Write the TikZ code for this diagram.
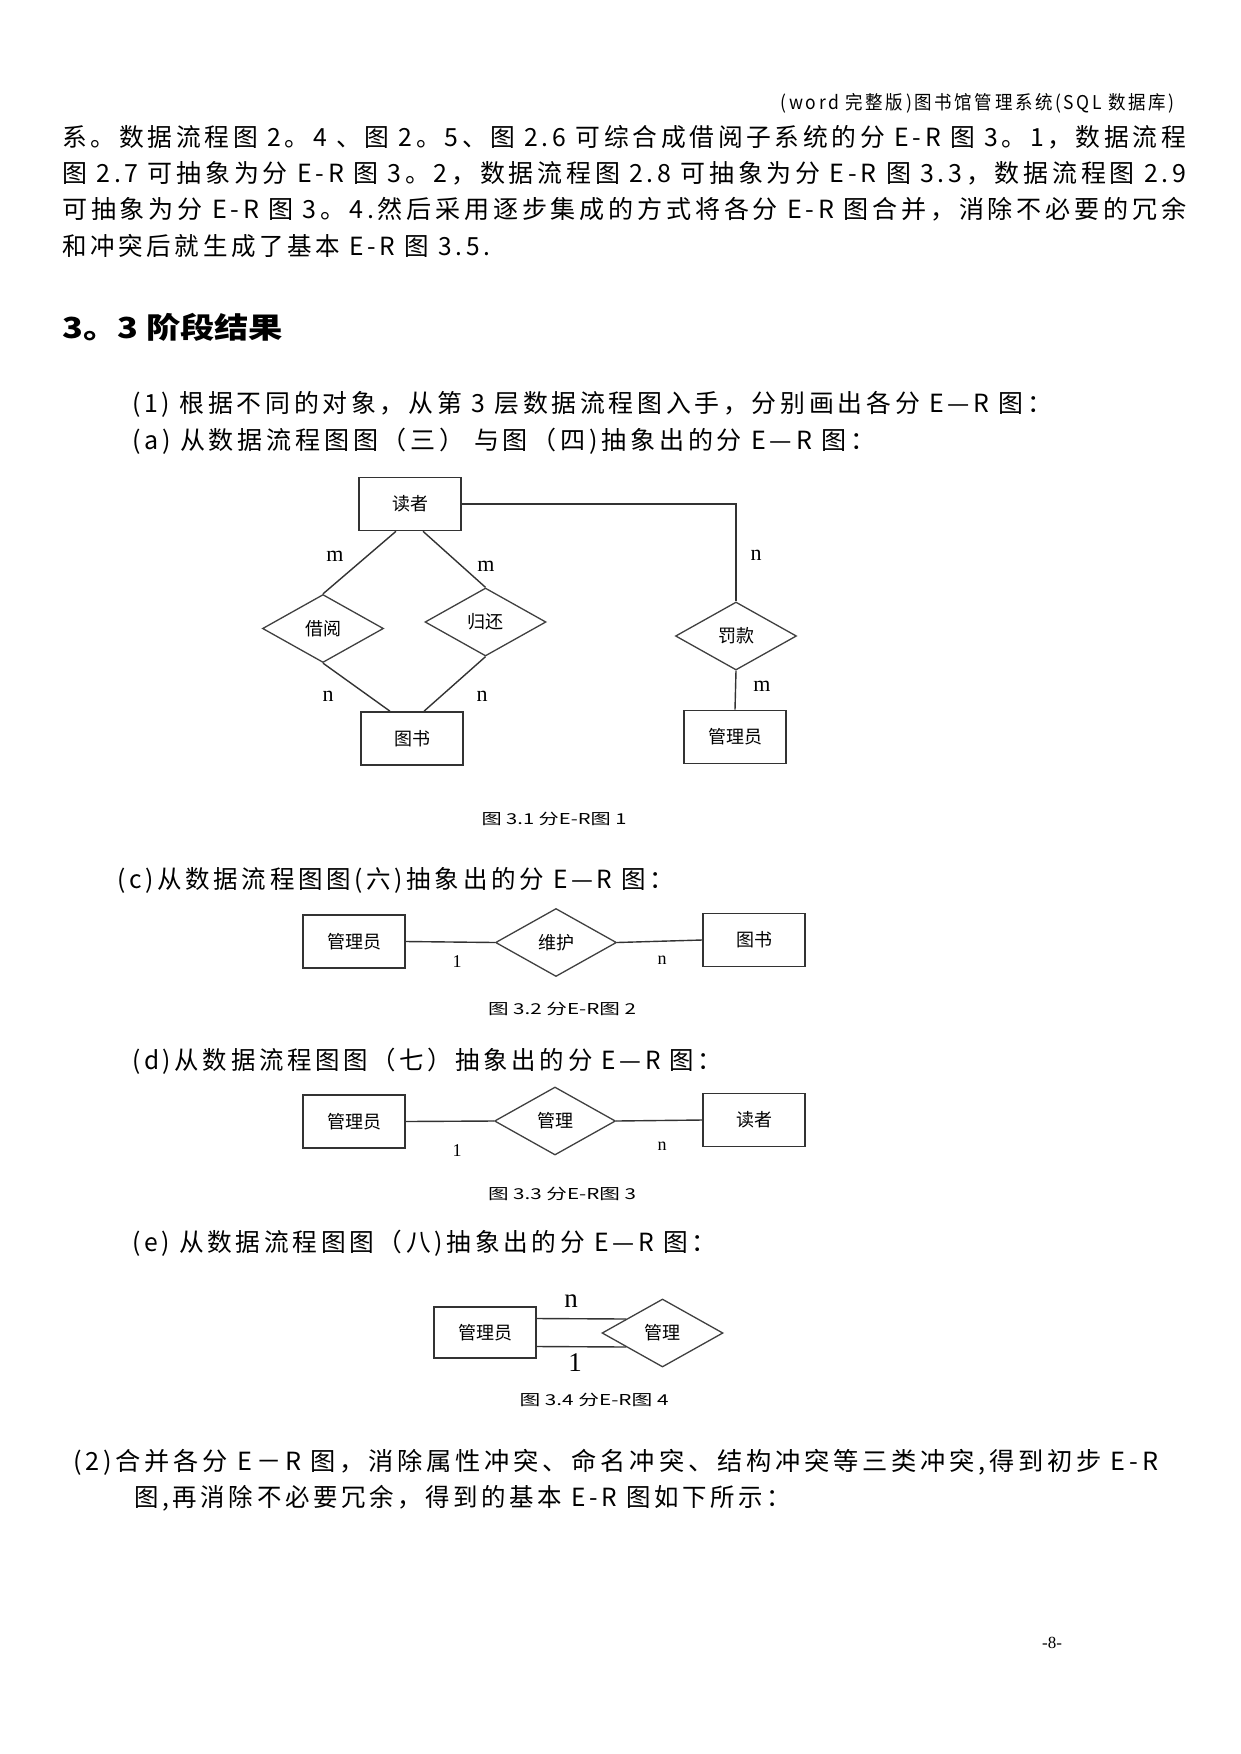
\documentclass[tikz,border=0pt]{standalone}
\usepackage{fontspec}
\setmainfont{Liberation Serif}
\newfontfamily\cjk[LetterSpace=15]{Noto Sans CJK SC}
\newfontfamily\cjkn{Noto Sans CJK SC}
\usetikzlibrary{shapes.geometric}
\newcommand\fitw[2]{\resizebox{#1pt}{\height}{#2}}
\tikzset{
  ent/.style={draw=black!80, line width=1.6pt, minimum width=102pt, minimum height=53pt, inner sep=0pt, font=\cjkn\fontsize{18}{18}\selectfont},
  rel/.style={diamond, draw=black!75, line width=1.3pt, minimum width=121pt, minimum height=68pt, inner sep=0pt, font=\cjkn\fontsize{18}{18}\selectfont},
  lnk/.style={draw=black!80, line width=1.4pt},
  card/.style={inner sep=0pt, font=\fontsize{22}{22}\selectfont},
  cards/.style={inner sep=0pt, font=\fontsize{18}{18}\selectfont},
  cardl/.style={inner sep=0pt, font=\fontsize{27}{27}\selectfont},
  txt/.style={anchor=west, inner sep=0pt, font=\cjk\fontsize{25}{25}\selectfont},
  figcap/.style={inner sep=0pt, font=\cjkn\fontsize{15}{15}\selectfont}
}
\begin{document}
\begin{tikzpicture}[x=1pt,y=-1pt]
\fill[white] (0,0) rectangle (1241,1754);
\useasboundingbox (0,0) rectangle (1241,1754);

% header
\node[anchor=east, inner sep=0pt, font=\cjk\fontsize{19}{19}\selectfont] (hdr) at (1175,103) {\fitw{394}{(word 完整版)图书馆管理系统(SQL 数据库)}};

% paragraph
\node[txt] (p1) at (62,137) {\fitw{1124}{系。数据流程图 2。4 、图 2。5、图 2.6 可综合成借阅子系统的分 E-R 图 3。1，数据流程}};
\node[txt] (p2) at (62,173) {\fitw{1124}{图 2.7 可抽象为分 E-R 图 3。2，数据流程图 2.8 可抽象为分 E-R 图 3.3，数据流程图 2.9}};
\node[txt] (p3) at (62,209) {\fitw{1124}{可抽象为分 E-R 图 3。4.然后采用逐步集成的方式将各分 E-R 图合并，消除不必要的冗余}};
\node[txt] (p4) at (62,246) {\fitw{428}{和冲突后就生成了基本 E-R 图 3.5.}};

% heading
\node[anchor=west, inner sep=0pt, font=\cjkn\bfseries\fontsize{29}{29}\selectfont] (hd) at (62,327) {\fitw{221}{3。3 阶段结果}};

\node[txt] (t1) at (132,404) {\fitw{920}{(1) 根据不同的对象，从第 3 层数据流程图入手，分别画出各分 E—R 图：}};
\node[txt] (ta) at (132,441) {\fitw{743}{(a) 从数据流程图图（三） 与图（四)抽象出的分 E—R 图：}};

% diagram 1
\node[ent] (du) at (410,504) {读者};
\node[rel] (jy) at (323,628.5) {借阅};
\node[rel] (gh) at (485.5,622) {归还};
\node[rel] (fk) at (736,636) {罚款};
\node[ent] (ts) at (412,738.5) {图书};
\node[ent] (gly) at (735,737) {管理员};
\draw[lnk] (du.east) -| (fk.north);
\draw[lnk] (fk.south) -- (gly.north);
\draw[lnk] ([xshift=-14pt]du.south) -- (jy.north);
\draw[lnk] ([xshift=13pt]du.south) -- (gh.north);
\draw[lnk] (jy.south) -- ([xshift=-22pt]ts.north);
\draw[lnk] (gh.south) -- ([xshift=12pt]ts.north);
\node[card] (c1) at (335,556) {m};
\node[card] (c2) at (486,566) {m};
\node[card] (c3) at (756,555) {n};
\node[card] (c4) at (762,686) {m};
\node[card] (c5) at (328,696) {n};
\node[card] (c6) at (482,696) {n};
\node[figcap] (cap1) at (554,819) {\fitw{145}{图 3.1 分E-R图 1}};

\node[txt] (tc) at (117,880) {\fitw{557}{(c)从数据流程图图(六)抽象出的分 E—R 图：}};

% diagram 2
\node[ent] (gly2) at (354,941.5) {管理员};
\node[rel] (wh) at (556,942.5) {维护};
\node[ent] (ts2) at (754,940) {图书};
\draw[lnk] (gly2.east) -- (wh.west);
\draw[lnk] (wh.east) -- (ts2.west);
\node[cards] (d1) at (457,962) {1};
\node[cards] (d2) at (662,960) {n};
\node[figcap] (cap2) at (562,1009) {\fitw{148}{图 3.2 分E-R图 2}};

\node[txt] (td) at (132,1061) {\fitw{590}{(d)从数据流程图图（七）抽象出的分 E—R 图：}};

% diagram 3
\node[ent] (gly3) at (354,1121.5) {管理员};
\node[rel] (gl) at (555,1121) {管理};
\node[ent] (dz3) at (754,1120) {读者};
\draw[lnk] (gly3.east) -- (gl.west);
\draw[lnk] (gl.east) -- (dz3.west);
\node[cards] (e1) at (457,1151) {1};
\node[cards] (e2) at (662,1146) {n};
\node[figcap] (cap3) at (562,1194) {\fitw{148}{图 3.3 分E-R图 3}};

\node[txt] (te) at (132,1243) {\fitw{584}{(e) 从数据流程图图（八)抽象出的分 E—R 图：}};

% diagram 4
\node[ent, minimum height=51pt] (gly4) at (485,1332.5) {管理员};
\node[rel] (gl4) at (662.5,1333) {管理};
\draw[lnk] ([yshift=14pt]gly4.east) -- ([xshift=25pt,yshift=14pt]gl4.west);
\draw[lnk] ([yshift=-14pt]gly4.east) -- ([xshift=25pt,yshift=-14pt]gl4.west);
\node[cardl] (f1) at (571,1301) {n};
\node[cardl] (f2) at (575,1363) {1};
\node[figcap] (cap4) at (594,1400) {\fitw{149}{图 3.4 分E-R图 4}};

\node[txt] (t2) at (73,1462) {\fitw{1085}{(2)合并各分 E－R 图，消除属性冲突、命名冲突、结构冲突等三类冲突,得到初步 E-R}};
\node[txt] (t3) at (134,1498) {\fitw{657}{图,再消除不必要冗余，得到的基本 E-R 图如下所示：}};

\node[inner sep=0pt, font=\fontsize{17}{17}\selectfont] (pg) at (1052,1643) {-8-};
\end{tikzpicture}
\end{document}
